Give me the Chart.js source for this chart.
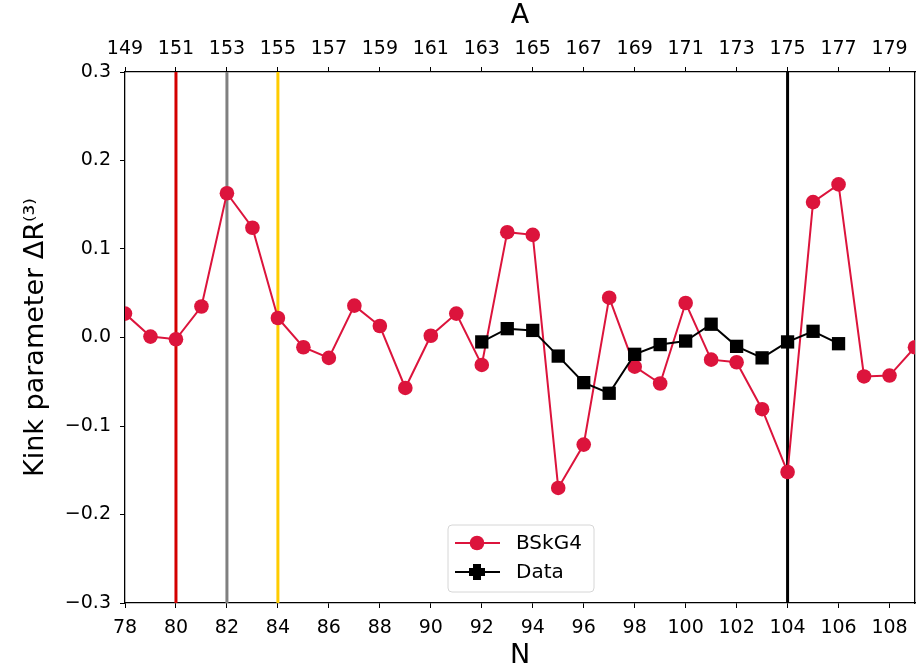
<!DOCTYPE html>
<html>
<head>
<meta charset="utf-8">
<script src="https://cdn.jsdelivr.net/npm/chart.js@4/dist/chart.umd.min.js"></script>
<style>
html,body{margin:0;padding:0;background:#fff;}
#wrap{width:918px;height:672px;position:relative;}
</style>
</head>
<body>
<div id="wrap"><canvas id="c" width="918" height="672"></canvas></div>
<script>
const neutronN = [78,79,80,81,82,83,84,85,86,87,88,89,90,91,92,93,94,95,96,97,98,99,100,101,102,103,104,105,106,107,108,109];
const bskg4 = [0.027,0.001,-0.002,0.035,0.163,0.124,0.022,-0.011,-0.023,0.036,0.013,-0.057,0.002,0.027,-0.031,0.119,0.116,-0.170,-0.121,0.045,-0.033,-0.052,0.039,-0.025,-0.028,-0.081,-0.152,0.153,0.173,-0.044,-0.043,-0.011];
const dataN = [92,93,94,95,96,97,98,99,100,101,102,103,104,105,106];
const dataVals = [-0.005,0.010,0.008,-0.021,-0.051,-0.063,-0.019,-0.008,-0.004,0.015,-0.010,-0.023,-0.005,0.007,-0.007];
const markerN = [80,82,84,104];
const markerColors = ['#d40000','#808080','#ffcc00','#000000'];
const yTicks = [-0.3,-0.2,-0.1,0.0,0.1,0.2,0.3];
const massOffset = 71;

// markers are clipped to the axes (as in the original), so no extra layout margin is needed for them
Chart.LineController.prototype.getMaxOverflow = function(){ return 0; };

const font = "'DejaVu Sans', sans-serif";
const toPts = (xs, ys) => xs.map((x,i)=>({x:x,y:ys[i]}));

const vlineSets = markerN.map((n,i)=>({
  label:'_v'+n, data:[{x:n,y:-0.3},{x:n,y:0.3}], borderColor:markerColors[i],
  borderWidth:3, pointRadius:0, xAxisID:'x', yAxisID:'y', order:10
}));

const legendPlugin = {
  id:'customLegend',
  afterDraw(chart){
    const ctx = chart.ctx;
    const x0=448, y0=525, w=146, h=67, r=4;
    ctx.save();
    ctx.beginPath();
    ctx.moveTo(x0+r,y0); ctx.lineTo(x0+w-r,y0); ctx.quadraticCurveTo(x0+w,y0,x0+w,y0+r);
    ctx.lineTo(x0+w,y0+h-r); ctx.quadraticCurveTo(x0+w,y0+h,x0+w-r,y0+h);
    ctx.lineTo(x0+r,y0+h); ctx.quadraticCurveTo(x0,y0+h,x0,y0+h-r);
    ctx.lineTo(x0,y0+r); ctx.quadraticCurveTo(x0,y0,x0+r,y0); ctx.closePath();
    ctx.fillStyle='rgba(255,255,255,0.85)'; ctx.fill();
    ctx.strokeStyle='#d6d6d6'; ctx.lineWidth=1; ctx.stroke();
    const cx = 477;
    let ly=543;
    ctx.strokeStyle='#dc143c'; ctx.lineWidth=2;
    ctx.beginPath(); ctx.moveTo(455,ly); ctx.lineTo(500,ly); ctx.stroke();
    ctx.fillStyle='#dc143c'; ctx.beginPath(); ctx.arc(cx,ly,7.3,0,Math.PI*2); ctx.fill();
    ctx.fillStyle='#000'; ctx.font='20px '+font; ctx.textBaseline='middle'; ctx.textAlign='left';
    ctx.fillText('BSkG4',516,ly+1);
    ly=572;
    ctx.strokeStyle='#000'; ctx.lineWidth=2;
    ctx.beginPath(); ctx.moveTo(455,ly); ctx.lineTo(500,ly); ctx.stroke();
    ctx.fillStyle='#000';
    ctx.fillRect(cx-4,ly-8,8,16); ctx.fillRect(cx-8,ly-4,16,8);
    ctx.beginPath(); ctx.arc(cx,ly,5.5,0,Math.PI*2); ctx.fill();
    ctx.fillText('Data',516,ly+1);
    ctx.restore();
  }
};

const tickFont = {family:font, size:19};

new Chart(document.getElementById('c'), {
  type:'line',
  data:{
    datasets:[
      {label:'BSkG4', data:toPts(neutronN,bskg4), borderColor:'#dc143c', backgroundColor:'#dc143c',
       borderWidth:2, pointRadius:7.3, pointHoverRadius:7.3, pointBorderWidth:0, pointStyle:'circle',
       xAxisID:'x', yAxisID:'y', order:2, clip:0},
      {label:'Data', data:toPts(dataN,dataVals), borderColor:'#000', backgroundColor:'#000',
       borderWidth:2, pointRadius:9.4, pointHoverRadius:9.4, pointBorderWidth:0, pointStyle:'rect',
       xAxisID:'x', yAxisID:'y', order:1, clip:0},
      ...vlineSets
    ]
  },
  options:{
    responsive:false, animation:false, devicePixelRatio:1,
    layout:{padding:0},
    plugins:{legend:{display:false}, tooltip:{enabled:false}},
    scales:{
      x:{type:'linear', position:'bottom', min:78, max:109,
        afterBuildTicks(s){ s.ticks = neutronN.filter(v=>v%2===0).map(v=>({value:v})); },
        afterFit(s){ s.height = 69; s.paddingLeft = 0; s.paddingRight = 0; },
        ticks:{font:tickFont, color:'#000', padding:9, maxRotation:0, autoSkip:false, callback:v=>String(v)},
        grid:{display:true, drawOnChartArea:false, drawTicks:true, tickLength:5, color:'#000', tickColor:'#000'},
        border:{display:true, color:'#000', width:1.3},
        title:{display:true, text:'N', font:{family:font,size:27}, color:'#000', padding:{top:0,bottom:0}}
      },
      x2:{type:'linear', position:'top', min:78, max:109,
        afterBuildTicks(s){ s.ticks = neutronN.filter(v=>v%2===0).map(v=>({value:v})); },
        afterFit(s){ s.height = 72; s.paddingLeft = 0; s.paddingRight = 0; },
        ticks:{font:tickFont, color:'#000', padding:7, maxRotation:0, autoSkip:false, callback:v=>String(v+massOffset)},
        grid:{display:true, drawOnChartArea:false, drawTicks:true, tickLength:5, color:'#000', tickColor:'#000'},
        border:{display:true, color:'#000', width:1.3},
        title:{display:true, text:'A', font:{family:font,size:27}, color:'#000', padding:{top:0,bottom:0}}
      },
      y:{type:'linear', position:'left', min:-0.3, max:0.3,
        afterBuildTicks(s){ s.ticks = yTicks.map(v=>({value:v})); },
        afterFit(s){ s.width = 125; },
        ticks:{font:tickFont, color:'#000', padding:9, callback:v=>(v<-1e-9?'\u2212':'')+Math.abs(v).toFixed(1)},
        grid:{display:true, drawOnChartArea:false, drawTicks:true, tickLength:5, color:'#000', tickColor:'#000'},
        border:{display:true, color:'#000', width:1.3},
        title:{display:true, text:'Kink parameter \u0394R\u207D\u00B3\u207E', font:{family:font,size:27}, color:'#000', padding:{top:20,bottom:0}}
      },
      y2:{type:'linear', position:'right', min:-0.3, max:0.3,
        afterFit(s){ s.width = 3; },
        ticks:{display:false},
        grid:{display:false},
        border:{display:true, color:'#000', width:1.3}
      }
    }
  },
  plugins:[legendPlugin]
});
</script>
</body>
</html>
